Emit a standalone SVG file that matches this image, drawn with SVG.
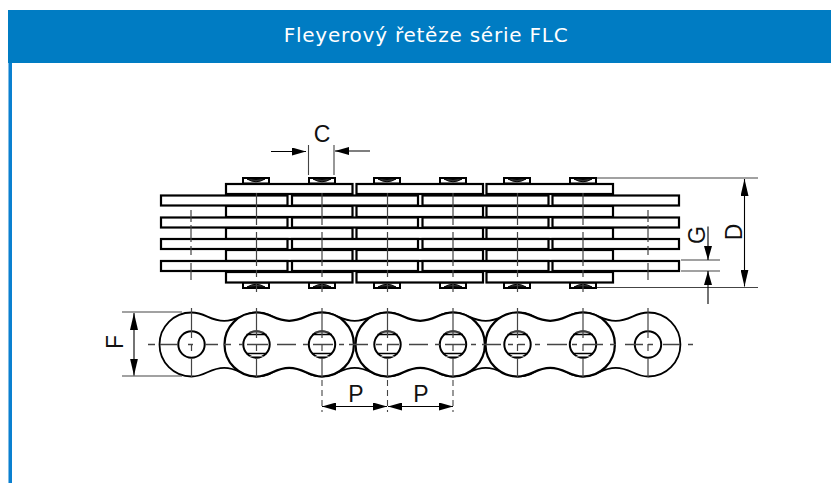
<svg xmlns="http://www.w3.org/2000/svg" width="831" height="483" viewBox="0 0 831 483">
<style>
.plate{fill:#fff;stroke:#000;stroke-width:2.2}
.cap{fill:#fff;stroke:#000;stroke-width:2}
.lens{fill:#333;stroke:#000;stroke-width:1}
.axis{fill:none;stroke:#444;stroke-width:1.2}
.link{fill:#fff;stroke:#000;stroke-width:1.8}
.front{fill:#fff;stroke:#000;stroke-width:2.2}
.hole{fill:#fff;stroke:#000;stroke-width:2}
.chord{fill:none;stroke:#000;stroke-width:1.4}
.hatch{fill:none;stroke:#777;stroke-width:1}
.dim{fill:none;stroke:#000;stroke-width:1.1}
.ext{fill:none;stroke:#444;stroke-width:1.1}
.lbl{font-family:"Liberation Sans",Arial,sans-serif;font-size:23px;fill:#111;text-anchor:middle}
.title{font-family:"DejaVu Sans",sans-serif;font-size:20px;fill:#fff;text-anchor:middle;letter-spacing:.77px}
</style>
<defs>
<marker id="ah" viewBox="0 0 14 8" refX="14" refY="4" markerWidth="14" markerHeight="8" markerUnits="userSpaceOnUse" orient="auto-start-reverse"><path d="M0 0L14 4L0 8z" fill="#000"/></marker>
<marker id="ahL" viewBox="0 0 17 8" refX="17" refY="4" markerWidth="17" markerHeight="8" markerUnits="userSpaceOnUse" orient="auto-start-reverse"><path d="M0 0L17 4L0 8z" fill="#000"/></marker>
<g id="capT"><rect class="cap" x="-13" y="-5" width="26" height="5.500"/><path class="lens" d="M-9 -4Q0 -3 9 -4Q0 1.500 -9 -4z"/></g>
<g id="capB"><rect class="cap" x="-13" y="-.5" width="26" height="5.500"/><path class="lens" d="M-9 4Q0 3 9 4Q0 -1.500 -9 4z"/></g>
<path id="dumb" d="M0 312.500C14 312.500 18 320.800 32.700 320.800C47.400 320.800 51.400 312.500 65.400 312.500A32 32 0 0 1 65.400 376.500C51.400 376.500 47.400 367.800 32.700 367.800C18 367.800 14 376.500 0 376.500A32 32 0 0 1 0 312.500z"/>
<path id="vtop" d="M0 193V225M0 232V266M0 270V277M0 284V292"/>
<path id="vend" d="M0 210V222M0 225V242M0 246V255M0 263V280"/>
<g id="holeA"><circle class="hole" cx="0" cy="344.500" r="13.200"/></g>
<g id="holeB"><circle class="hole" cx="0" cy="344.500" r="13.200"/><path class="chord" d="M-10 334.500H10M-10 353.500H10"/><path class="hatch" d="M-7 332H7M-7 356.500H7"/></g>
<path id="vside" d="M0 308V338M0 344V351M0 358V377"/>
</defs>
<rect width="831" height="483" fill="#fff"/>
<g id="header">
<rect x="8" y="63" width="1" height="420" fill="#7fbce6"/>
<rect x="9" y="63" width="3" height="420" fill="#0a80d0"/>
<rect x="8" y="10" width="823" height="53" fill="#007cc3"/>
<text class="title" x="426" y="42">Fleyerový řetěze série FLC</text>
</g>
<g id="top-view">
<use href="#capT" x="256" y="183"/><use href="#capT" x="322" y="183"/><use href="#capT" x="387" y="183"/><use href="#capT" x="453" y="183"/><use href="#capT" x="517" y="183"/><use href="#capT" x="583" y="183"/>
<use href="#capB" x="256" y="283"/><use href="#capB" x="322" y="283"/><use href="#capB" x="387" y="283"/><use href="#capB" x="453" y="283"/><use href="#capB" x="517" y="283"/><use href="#capB" x="583" y="283"/>
<g id="inner-plates">
<rect class="plate" x="226" y="184" width="126.500" height="10"/><rect class="plate" x="356.500" y="184" width="126.500" height="10"/><rect class="plate" x="486.500" y="184" width="126.500" height="10"/>
<rect class="plate" x="226" y="206" width="126.500" height="11"/><rect class="plate" x="356.500" y="206" width="126.500" height="11"/><rect class="plate" x="486.500" y="206" width="126.500" height="11"/>
<rect class="plate" x="226" y="228" width="126.500" height="11"/><rect class="plate" x="356.500" y="228" width="126.500" height="11"/><rect class="plate" x="486.500" y="228" width="126.500" height="11"/>
<rect class="plate" x="226" y="250" width="126.500" height="11"/><rect class="plate" x="356.500" y="250" width="126.500" height="11"/><rect class="plate" x="486.500" y="250" width="126.500" height="11"/>
<rect class="plate" x="226" y="272" width="126.500" height="10.500"/><rect class="plate" x="356.500" y="272" width="126.500" height="10.500"/><rect class="plate" x="486.500" y="272" width="126.500" height="10.500"/>
</g>
<g id="outer-plates">
<rect class="plate" x="161" y="195.500" width="126.500" height="10"/><rect class="plate" x="292" y="195.500" width="126" height="10"/><rect class="plate" x="422.500" y="195.500" width="126" height="10"/><rect class="plate" x="552.500" y="195.500" width="126.500" height="10"/>
<rect class="plate" x="161" y="217.500" width="126.500" height="10"/><rect class="plate" x="292" y="217.500" width="126" height="10"/><rect class="plate" x="422.500" y="217.500" width="126" height="10"/><rect class="plate" x="552.500" y="217.500" width="126.500" height="10"/>
<rect class="plate" x="161" y="239" width="126.500" height="10"/><rect class="plate" x="292" y="239" width="126" height="10"/><rect class="plate" x="422.500" y="239" width="126" height="10"/><rect class="plate" x="552.500" y="239" width="126.500" height="10"/>
<rect class="plate" x="161" y="261" width="126.500" height="10"/><rect class="plate" x="292" y="261" width="126" height="10"/><rect class="plate" x="422.500" y="261" width="126" height="10"/><rect class="plate" x="552.500" y="261" width="126.500" height="10"/>
</g>
<g id="top-axes" class="axis">
<use href="#vend" x="191"/><use href="#vtop" x="256.500"/><use href="#vtop" x="322"/><use href="#vtop" x="387.500"/><use href="#vtop" x="453"/><use href="#vtop" x="517.500"/><use href="#vtop" x="583"/><use href="#vend" x="648"/>
</g>
</g>
<g id="side-view">
<g class="link"><use href="#dumb" x="191.500"/><use href="#dumb" x="322"/><use href="#dumb" x="453"/><use href="#dumb" x="583"/></g>
<g class="front"><use href="#dumb" x="256.500"/><use href="#dumb" x="387.500"/><use href="#dumb" x="517.500"/></g>
<use href="#holeA" x="191.500"/><use href="#holeB" x="256.500"/><use href="#holeB" x="322"/><use href="#holeB" x="387.500"/><use href="#holeB" x="453"/><use href="#holeB" x="517.500"/><use href="#holeB" x="583"/><use href="#holeA" x="648"/>
<g id="side-axes" class="axis">
<use href="#vside" x="191.500"/><use href="#vside" x="256.500"/><use href="#vside" x="322"/><use href="#vside" x="387.500"/><use href="#vside" x="453"/><use href="#vside" x="517.500"/><use href="#vside" x="583"/><use href="#vside" x="648"/>
<path stroke-width="1.600" d="M148 344.500H155M160 344.500H178M188 344.500H193M205 344.500H218M224 344.500H231M239 344.500H243M247 344.500H268M277 344.500H296M303 344.500H308M313 344.500H333M339 344.500H344M349 344.500H368M376 344.500H382M387 344.500H399M409 344.500H428M435 344.500H440M445 344.500H465M471 344.500H476M482 344.500H501M508 344.500H513M518 344.500H525M535 344.500H540M547 344.500H567M572 344.500H577M583 344.500H603M610 344.500H616M625 344.500H643M648 344.500H653M663 344.500H680M688 344.500H693"/>
</g>
</g>
<g id="connectors">
<path class="ext" d="M308.500 145V175M334 145V175"/>
<path class="dim" d="M271 151.500H306" marker-end="url(#ah)"/>
<path class="dim" d="M370 151H335" marker-end="url(#ah)"/>
<path class="ext" d="M597 178H758M597 287.500H758M681 260H720M681 271H720"/>
<path class="dim" d="M744.500 179V286.500" marker-start="url(#ahL)" marker-end="url(#ahL)"/>
<path class="dim" d="M708 226.500V260" marker-end="url(#ah)"/>
<path class="dim" d="M708 304V271" marker-end="url(#ah)"/>
<path class="ext" d="M122 312H182M122 376H182"/>
<path class="dim" d="M134 313V375.500" marker-start="url(#ahL)" marker-end="url(#ahL)"/>
<path class="ext" d="M322 380V412M387.500 380V412M453 380V412" stroke-dasharray="6 4"/>
<path class="dim" d="M322 406.500H387" marker-start="url(#ah)" marker-end="url(#ah)"/>
<path class="dim" d="M388 406.500H453" marker-start="url(#ah)" marker-end="url(#ah)"/>
</g>
<g id="labels">
<text class="lbl" x="322" y="142">C</text>
<text class="lbl" x="356" y="402">P</text>
<text class="lbl" x="421" y="402">P</text>
<text class="lbl" transform="translate(741.500 232) rotate(-90)">D</text>
<text class="lbl" transform="translate(705 235) rotate(-90)">G</text>
<text class="lbl" transform="translate(123 342) rotate(-90)">F</text>
</g>
</svg>
